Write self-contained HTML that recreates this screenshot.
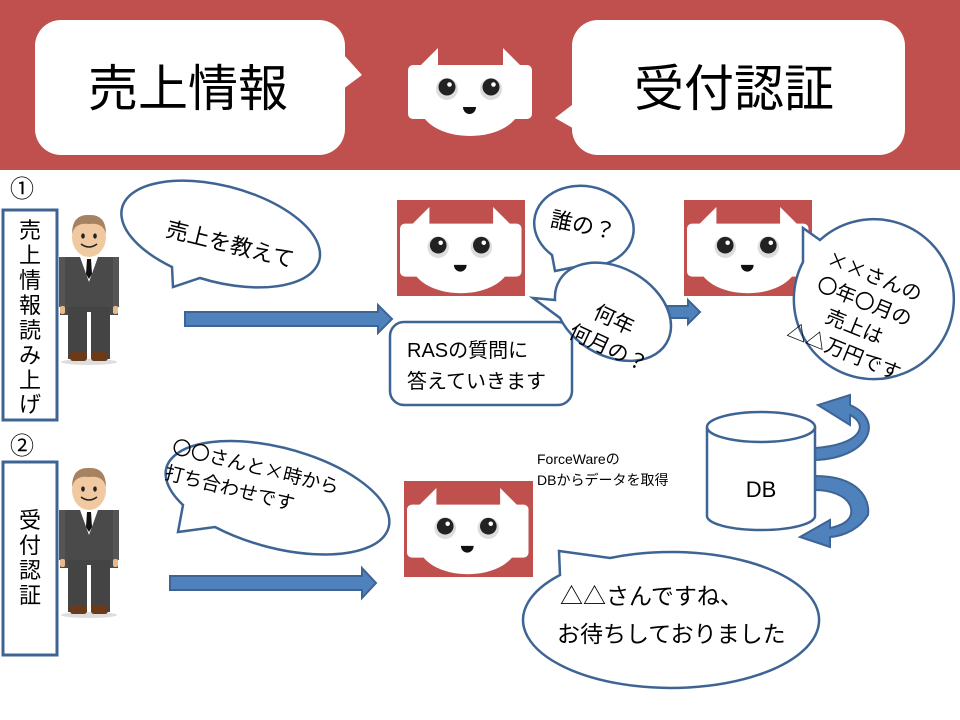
<!DOCTYPE html>
<html><head><meta charset="utf-8"><style>
html,body{margin:0;padding:0;background:#fff}
svg{display:block}
text{font-family:"Liberation Sans","Noto Sans CJK JP",sans-serif;fill:#000}
text.cj,.cj text{font-family:"Noto Sans CJK JP","Liberation Sans",sans-serif}
</style></head><body>
<svg width="960" height="720" viewBox="0 0 960 720" xmlns="http://www.w3.org/2000/svg">
<defs>
<g id="robot">
 <polygon points="12,18 30,0 30,18" fill="#fff"/>
 <polygon points="95,0 113,18 95,18" fill="#fff"/>
 <rect x="0" y="17" width="124" height="54" rx="5" fill="#fff"/>
 <ellipse cx="62" cy="58" rx="50" ry="30" fill="#fff"/>
 <circle cx="39" cy="41" r="11" fill="#ddd"/>
 <circle cx="83" cy="41" r="11" fill="#ddd"/>
 <circle cx="39" cy="39" r="8.5" fill="#222"/>
 <circle cx="83" cy="39" r="8.5" fill="#222"/>
 <circle cx="41.5" cy="36.5" r="2.3" fill="#fff"/>
 <circle cx="85.5" cy="36.5" r="2.3" fill="#fff"/>
 <path d="M55,59 h13 a6.5,7 0 0 1 -13,0z" fill="#111"/>
</g>
<g id="person">
 <ellipse cx="29" cy="150" rx="28" ry="3" fill="#ddd"/>
 <rect x="0" y="45" width="58" height="58" fill="#4a4a4a"/>
 <rect x="-1" y="45" width="6" height="50" fill="#555"/>
 <rect x="53" y="45" width="6" height="50" fill="#555"/>
 <rect x="8" y="95" width="42" height="52" fill="#444"/>
 <rect x="27" y="100" width="4" height="47" fill="#fff"/>
 <polygon points="20,45 38,45 29,70" fill="#fff"/>
 <polygon points="27,47 31,47 32,62 29,67 26,62" fill="#111"/>
 <rect x="10" y="140" width="17" height="9" rx="3" fill="#6b3a1a"/>
 <rect x="31" y="140" width="17" height="9" rx="3" fill="#6b3a1a"/>
 <rect x="0" y="94" width="5" height="8" rx="2" fill="#e8b88f"/>
 <rect x="53" y="94" width="5" height="8" rx="2" fill="#e8b88f"/>
 <ellipse cx="29" cy="25" rx="17" ry="20" fill="#f1c9a0"/>
 <path d="M12,22 Q12,2 29,3 Q46,2 46,22 Q43,10 29,12 Q15,10 12,22z" fill="#a78260"/>
 <ellipse cx="23" cy="24" rx="1.8" ry="2.6" fill="#222"/>
 <ellipse cx="35" cy="24" rx="1.8" ry="2.6" fill="#222"/>
 <path d="M21,32 Q29,38 37,32" stroke="#222" stroke-width="1.5" fill="none"/>
</g>
</defs>

<!-- header -->
<rect x="0" y="0" width="960" height="170" fill="#c0504d"/>
<rect x="35" y="20" width="310" height="135" rx="26" fill="#fff"/>
<polygon points="335,45 362,75 335,95" fill="#fff"/>
<text x="188" y="106" font-size="50" text-anchor="middle">売上情報</text>
<rect x="572" y="20" width="333" height="135" rx="26" fill="#fff"/>
<polygon points="585,95 555,118 585,135" fill="#fff"/>
<text x="734" y="106" font-size="50" text-anchor="middle">受付認証</text>
<use href="#robot" x="408" y="48"/>

<!-- section 1 -->
<text x="10" y="197" font-size="24">①</text>
<rect x="3" y="210" width="54" height="210" fill="#fff" stroke="#3e6494" stroke-width="3"/>
<g font-size="22" text-anchor="middle">
<text x="30" y="238">売</text><text x="30" y="263">上</text><text x="30" y="288">情</text><text x="30" y="313">報</text>
<text x="30" y="338">読</text><text x="30" y="363">み</text><text x="30" y="388">上</text><text x="30" y="412">げ</text>
</g>
<use href="#person" x="60" y="212"/>

<path d="M172,267 A102,48 15 1 1 200,278 L173,287 Z" fill="#fff" stroke="#3e6494" stroke-width="2.5"/>
<text x="230" y="252" font-size="22" text-anchor="middle" transform="rotate(14 230 245)">売上を教えて</text>

<polygon points="185,312 378,312 378,305 392,319 378,333 378,326 185,326" fill="#4f81bd" stroke="#3e6494" stroke-width="2"/>

<rect x="397" y="200" width="128" height="96" fill="#c0504d"/>
<use href="#robot" x="400" y="207" transform="translate(400 207) scale(0.98) translate(-400 -207)"/>
<rect x="684" y="200" width="128" height="96" fill="#c0504d"/>
<use href="#robot" x="687" y="207" transform="translate(687 207) scale(0.98) translate(-687 -207)"/>

<polygon points="650,306 688,306 688,300 700,312 688,324 688,318 650,318" fill="#4f81bd" stroke="#3e6494" stroke-width="2"/>

<path d="M552,255 A50,40 10 1 1 580,266 L555,271 Z" fill="#fff" stroke="#3e6494" stroke-width="2.5"/>
<text x="583" y="233" font-size="22" text-anchor="middle" transform="rotate(12 583 226)">誰の？</text>

<rect x="390" y="322" width="182" height="83" rx="14" fill="#fff" stroke="#3e6494" stroke-width="2.5"/>
<text x="407" y="357" font-size="20">RASの質問に</text>
<text x="407" y="388" font-size="20">答えていきます</text>

<path d="M533,298 L555,300 A62,44 30 1 1 560,318 Z" fill="#fff" stroke="#3e6494" stroke-width="2.5"/>
<text x="605" y="327" font-size="21" text-anchor="middle" transform="rotate(25 610 340)">何年</text>
<text x="612" y="355" font-size="21" text-anchor="middle" transform="rotate(25 610 340)">何月の？</text>

<path d="M803,228 L820,240 A80,80 0 1 1 803,262 Z" fill="#fff" stroke="#3e6494" stroke-width="2.5"/>
<g class="cj" font-size="20" text-anchor="middle" transform="rotate(22 857 320)">
<text x="857" y="280">××さんの</text>
<text x="857" y="307">〇年〇月の</text>
<text x="857" y="334">売上は</text>
<text x="857" y="361">△△万円です</text>
</g>

<!-- curved arrows -->
<path d="M815,460 C870,458 885,420 850,405 L850,395 L818,405 L850,425 L850,415 C870,425 860,445 815,448 Z" fill="#4f81bd" stroke="#3e6494" stroke-width="2"/>
<path d="M815,476 C860,476 870,500 868,515 C860,528 845,536 830,537 L830,547 L800,537 L830,520 L830,528 C845,525 855,518 850,505 C845,495 830,490 815,490 Z" fill="#4f81bd" stroke="#3e6494" stroke-width="2"/>

<!-- DB -->
<path d="M707,427 L707,516 A54,14 0 0 0 815,516 L815,427" fill="#fff" stroke="#3e6494" stroke-width="2.5"/>
<ellipse cx="761" cy="427" rx="54" ry="15" fill="#fff" stroke="#3e6494" stroke-width="2.5"/>
<text x="761" y="497" font-size="22" text-anchor="middle">DB</text>

<text x="537" y="464" font-size="14">ForceWareの</text>
<text x="537" y="485" font-size="14">DBからデータを取得</text>

<!-- section 2 -->
<text x="10" y="454" font-size="24">②</text>
<rect x="3" y="462" width="54" height="193" fill="#fff" stroke="#3e6494" stroke-width="3"/>
<g font-size="22" text-anchor="middle">
<text x="30" y="528">受</text><text x="30" y="553">付</text><text x="30" y="578">認</text><text x="30" y="603">証</text>
</g>
<use href="#person" x="60" y="465"/>

<path d="M178,532 L183,505 A115,50 15 1 1 215,527 Z" fill="#fff" stroke="#3e6494" stroke-width="2.5"/>
<g class="cj" font-size="19" text-anchor="middle" transform="rotate(14 240 480)">
<text x="252" y="470">〇〇さんと×時から</text>
<text x="232" y="497">打ち合わせです</text>
</g>

<polygon points="170,576 362,576 362,568 376,583 362,598 362,590 170,590" fill="#4f81bd" stroke="#3e6494" stroke-width="2"/>

<rect x="404" y="481" width="129" height="96" fill="#c0504d"/>
<use href="#robot" x="407" y="488" transform="translate(407 488) scale(0.98) translate(-407 -488)"/>

<path d="M559,551 L610,558 A148,68 0 1 1 560,575 Z" fill="#fff" stroke="#3e6494" stroke-width="2.5"/>
<text class="cj" x="560" y="604" font-size="23">△△さんですね、</text>
<text class="cj" x="557" y="642" font-size="23">お待ちしておりました</text>
</svg>
</body></html>
